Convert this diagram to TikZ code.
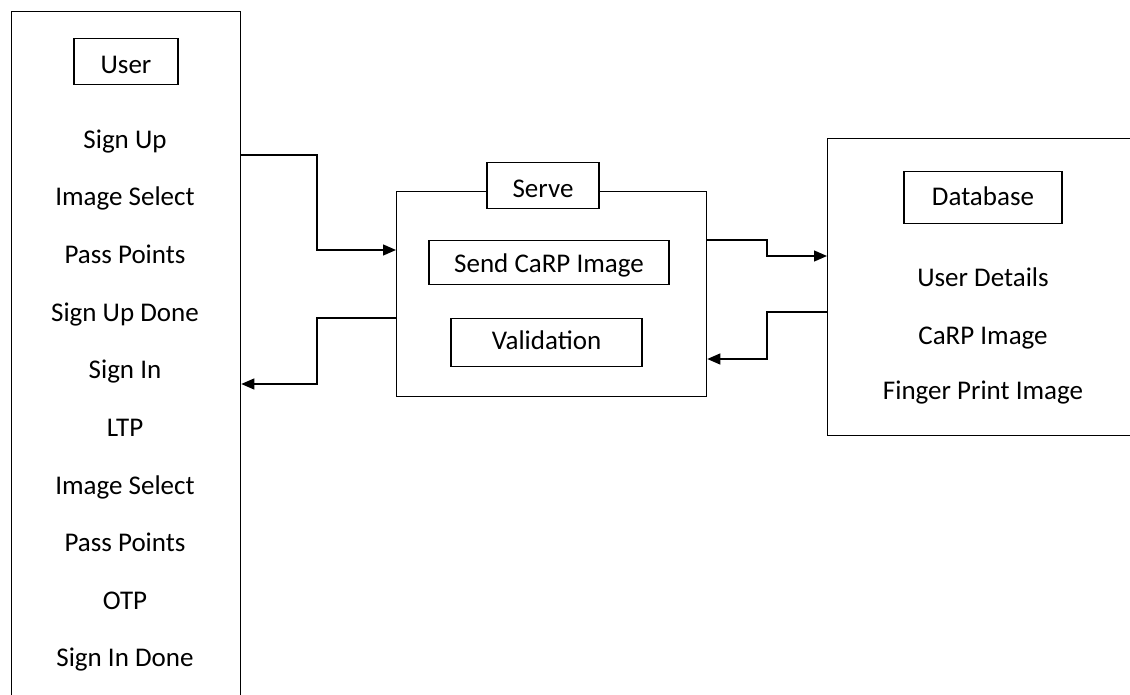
\documentclass[tikz,border=0pt]{standalone}
\usepackage{fontspec}
\setmainfont{Carlito}
\usetikzlibrary{arrows.meta}
\begin{document}
\begin{tikzpicture}[x=1pt,y=-1pt,
  frame/.style={draw=black, line width=1.3pt, rectangle, inner sep=0pt},
  lbl/.style={frame, fill=white, font=\fontsize{27}{32}\selectfont, anchor=north},
  item/.style={font=\fontsize{27}{32}\selectfont, anchor=base, inner sep=0pt},
  arr/.style={draw=black, line width=1.3pt, -{Triangle[length=13pt,width=11pt]}}]
\clip (0,0) rectangle (1130,695);
\fill[white] (0,0) rectangle (1130,695);
% main frames
\node[frame, minimum width=229.5pt, minimum height=709pt, anchor=north west] (user) at (10.5,11) {};
\node[frame, minimum width=310pt, minimum height=205pt, anchor=north west] (server) at (396,191) {};
\node[frame, minimum width=323pt, minimum height=297pt, anchor=north west] (db) at (827,138) {};
% label boxes
\node[lbl, minimum width=104pt, text height=35pt, text depth=11pt] (userlbl) at (126,38) {User};
\node[lbl, minimum width=112pt, text height=35pt, text depth=11pt] (servelbl) at (543,162) {Serve};
\node[lbl, minimum width=240pt, text height=32pt, text depth=12pt] (send) at (549,240) {Send CaRP Image};
\node[lbl, minimum width=191pt, text height=31pt, text depth=17pt] (valid) at (546.5,318) {Validation};
\node[lbl, minimum width=158pt, text height=34pt, text depth=18pt] (dblbl) at (983,171) {Database};
% user items
\node[item] (u1) at (125,149) {Sign Up};
\node[item] (u2) at (125,205.5) {Image Select};
\node[item] (u3) at (125,263) {Pass Points};
\node[item] (u4) at (125,321) {Sign Up Done};
\node[item] (u5) at (125,378.5) {Sign In};
\node[item] (u6) at (125,436) {LTP};
\node[item] (u7) at (125,494) {Image Select};
\node[item] (u8) at (125,551.5) {Pass Points};
\node[item] (u9) at (125,609) {OTP};
\node[item] (u10) at (125,666) {Sign In Done};
% database items
\node[item] (d1) at (983,286) {User Details};
\node[item] (d2) at (983,344) {CaRP Image};
\node[item] (d3) at (983,399.5) {Finger Print Image};
% connectors
\coordinate (j1) at (317,155);
\coordinate (j2) at (317,384);
\coordinate (j3) at (767,240);
\coordinate (j4) at (767,359);
\draw[arr] (user.east |- j1) -- (j1) |- (server.west |- 0,250);
\draw[arr] (server.west |- 0,318) -| (j2) -- (user.east |- j2);
\draw[arr] (server.east |- j3) -- (j3) |- (db.west |- 0,256);
\draw[arr] (db.west |- 0,312) -| (j4) -- (server.east |- j4);
\end{tikzpicture}
\end{document}
